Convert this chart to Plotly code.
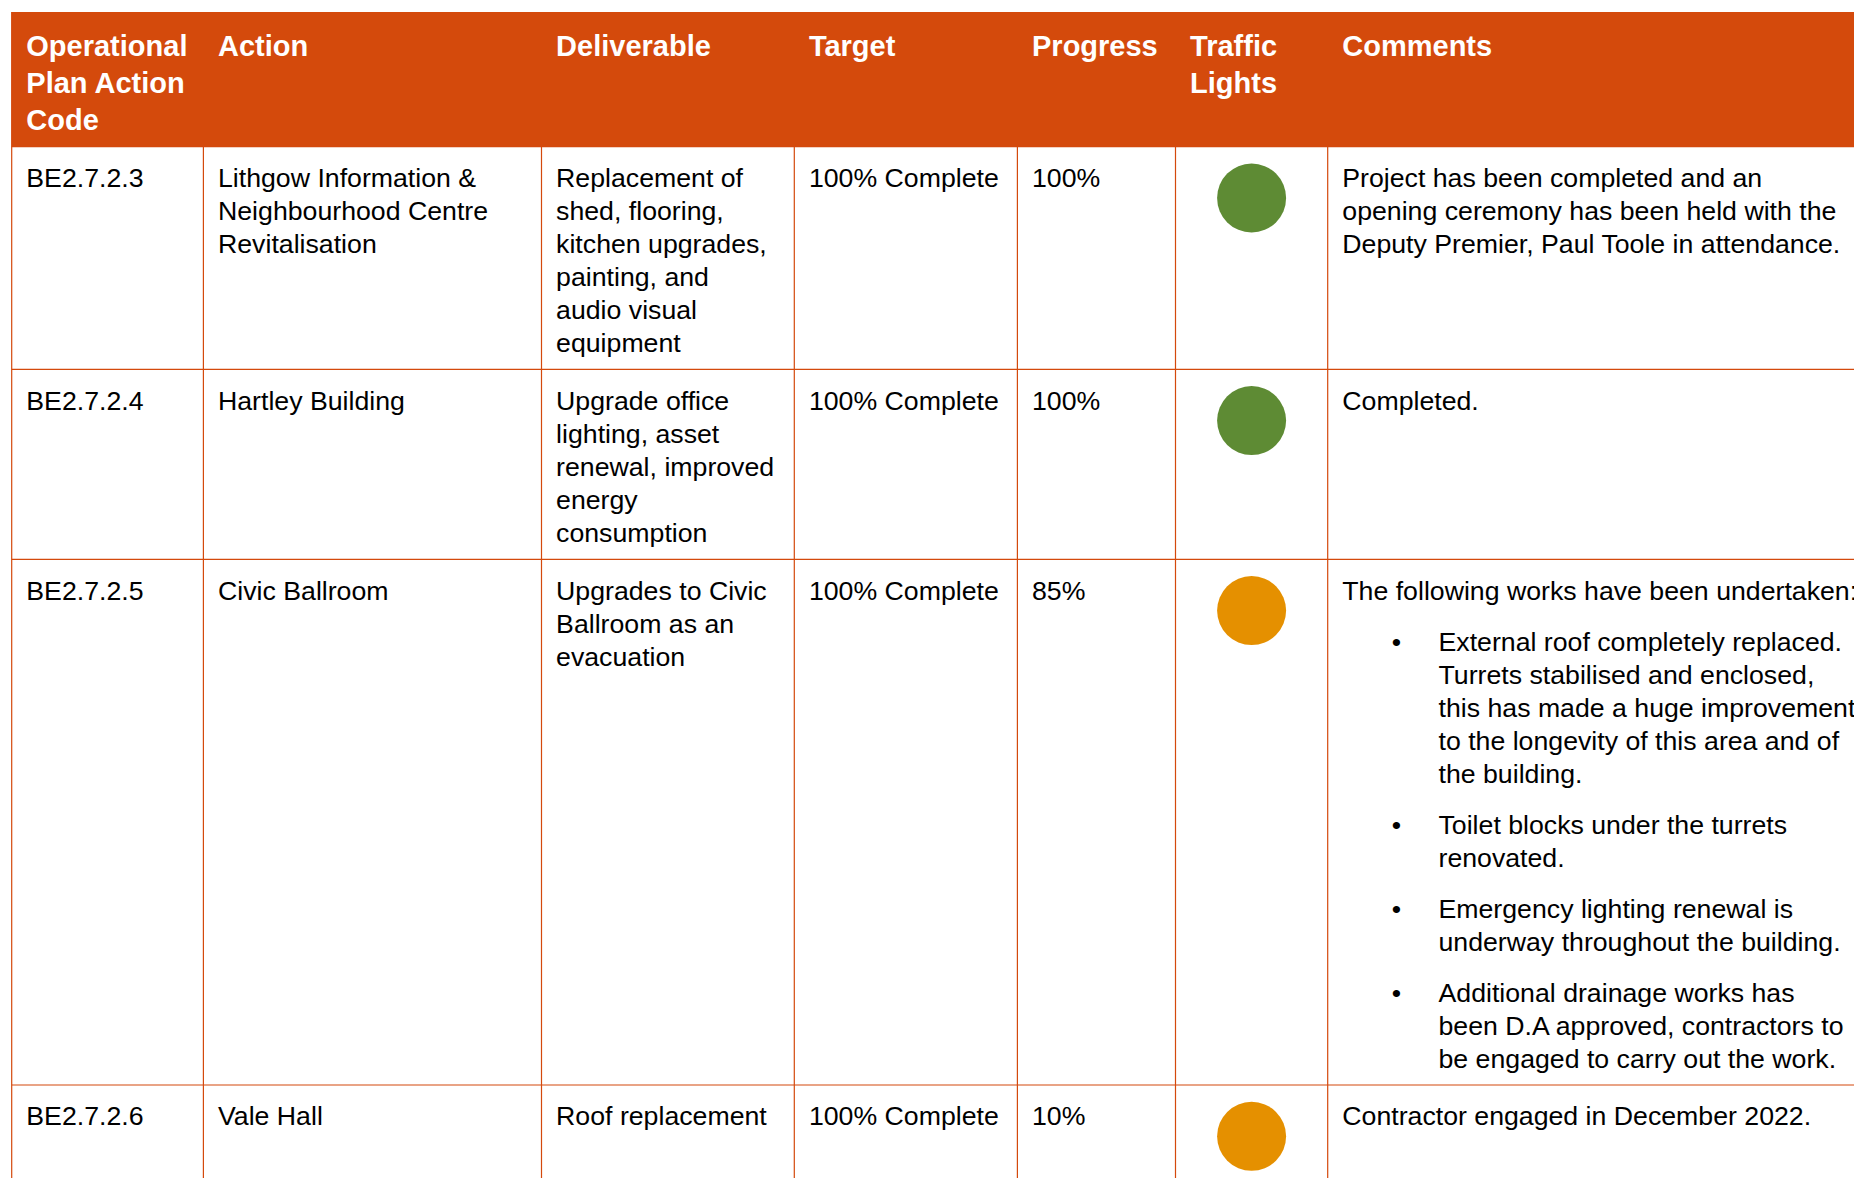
import plotly.graph_objects as go

# ---------------- data ----------------
headers = [
    ["Operational", "Plan Action", "Code"],
    ["Action"],
    ["Deliverable"],
    ["Target"],
    ["Progress"],
    ["Traffic", "Lights"],
    ["Comments"],
]
codes = ["BE2.7.2.3", "BE2.7.2.4", "BE2.7.2.5", "BE2.7.2.6"]
actions = [
    ["Lithgow Information &", "Neighbourhood Centre", "Revitalisation"],
    ["Hartley Building"],
    ["Civic Ballroom"],
    ["Vale Hall"],
]
deliverables = [
    ["Replacement of", "shed, flooring,", "kitchen upgrades,", "painting, and", "audio visual", "equipment"],
    ["Upgrade office", "lighting, asset", "renewal, improved", "energy", "consumption"],
    ["Upgrades to Civic", "Ballroom as an", "evacuation"],
    ["Roof replacement"],
]
targets = ["100% Complete", "100% Complete", "100% Complete", "100% Complete"]
progress = ["100%", "100%", "85%", "10%"]
traffic_lights = ["green", "green", "amber", "amber"]
comments_intro = [
    ["Project has been completed and an", "opening ceremony has been held with the",
     "Deputy Premier, Paul Toole in attendance."],
    ["Completed."],
    ["The following works have been undertaken:"],
    ["Contractor engaged in December 2022."],
]
comments_bullets = [
    [],
    [],
    [
        ["External roof completely replaced.", "Turrets stabilised and enclosed,",
         "this has made a huge improvement", "to the longevity of this area and of", "the building."],
        ["Toilet blocks under the turrets", "renovated."],
        ["Emergency lighting renewal is", "underway throughout the building."],
        ["Additional drainage works has", "been D.A approved, contractors to",
         "be engaged to carry out the work."],
    ],
    [],
]

# ---------------- layout / style constants ----------------
W, H = 1854, 1178
col_edges = [11.7, 203.4, 541.5, 794.3, 1017.4, 1175.5, 1327.7, 1950]
row_edges = [12.0, 146.7, 369.3, 559.3, 1085.0, 1300]
pad_x = 14.6
hdr_first = 37.0
hdr_lh = 36.7
body_first = 33.6
body_lh = 33.1
para_step = 51.0
bullet_x = 1396.5
bullet_text_x = 1438.5
light_dy = 51.3
light_size = 69

HEADER_BG = "#D44A0C"
LINE_COL = "#D4490C"
LIGHT_COLORS = {"green": "#5E8B34", "amber": "#E59000"}
FONT = "Liberation Sans, Arial, sans-serif"
BODY_SIZE = 26.7
HDR_SIZE = 29

# ---------------- build text positions ----------------
hx, hy, ht = [], [], []
for c, lines in enumerate(headers):
    for i, ln in enumerate(lines):
        hx.append(col_edges[c] + pad_x)
        hy.append(row_edges[0] + hdr_first + i * hdr_lh)
        ht.append(ln)

bx, by, bt = [], [], []
dots_x, dots_y = [], []
lx, ly, lc = [], [], []


def add_lines(x, y0, lines):
    for i, ln in enumerate(lines):
        bx.append(x)
        by.append(y0 + i * body_lh)
        bt.append(ln)
    return y0 + (len(lines) - 1) * body_lh


for r in range(len(codes)):
    top = row_edges[r + 1]
    y0 = top + body_first
    add_lines(col_edges[0] + pad_x, y0, [codes[r]])
    add_lines(col_edges[1] + pad_x, y0, actions[r])
    add_lines(col_edges[2] + pad_x, y0, deliverables[r])
    add_lines(col_edges[3] + pad_x, y0, [targets[r]])
    add_lines(col_edges[4] + pad_x, y0, [progress[r]])
    last = add_lines(col_edges[6] + pad_x, y0, comments_intro[r])
    for blines in comments_bullets[r]:
        start = last + para_step
        dots_x.append(bullet_x)
        dots_y.append(start)
        last = add_lines(bullet_text_x, start, blines)
    lx.append((col_edges[5] + col_edges[6]) / 2)
    ly.append(top + light_dy)
    lc.append(LIGHT_COLORS[traffic_lights[r]])

fig = go.Figure()

fig.add_trace(go.Scatter(
    x=hx, y=hy, text=ht, mode="text", textposition="middle right",
    textfont=dict(family=FONT, size=HDR_SIZE, color="white", weight="bold"),
    hoverinfo="skip", showlegend=False, cliponaxis=False,
))
fig.add_trace(go.Scatter(
    x=bx, y=by, text=bt, mode="text", textposition="middle right",
    textfont=dict(family=FONT, size=BODY_SIZE, color="black"),
    hoverinfo="skip", showlegend=False, cliponaxis=False,
))
fig.add_trace(go.Scatter(
    x=dots_x, y=dots_y, text=["•"] * len(dots_x), mode="text", textposition="middle center",
    textfont=dict(family=FONT, size=BODY_SIZE, color="black"),
    hoverinfo="skip", showlegend=False, cliponaxis=False,
))
fig.add_trace(go.Scatter(
    x=lx, y=ly, mode="markers",
    marker=dict(size=light_size, color=lc, line=dict(width=0)),
    hoverinfo="skip", showlegend=False,
))

shapes = [dict(type="rect", xref="x", yref="y", x0=col_edges[0], x1=col_edges[-1],
               y0=row_edges[0], y1=row_edges[1], fillcolor=HEADER_BG,
               line=dict(width=0), layer="below")]
for yv in row_edges[1:-1]:
    shapes.append(dict(type="line", xref="x", yref="y", x0=col_edges[0], x1=col_edges[-1],
                       y0=yv, y1=yv, line=dict(color=LINE_COL, width=1.2), layer="below"))
for xv in col_edges[:-1]:
    y_start = row_edges[0] if xv == col_edges[0] else row_edges[1]
    shapes.append(dict(type="line", xref="x", yref="y", x0=xv, x1=xv,
                       y0=y_start, y1=row_edges[-1], line=dict(color=LINE_COL, width=1.2),
                       layer="below"))

fig.update_layout(
    width=W, height=H,
    margin=dict(l=0, r=0, t=0, b=0),
    paper_bgcolor="white", plot_bgcolor="white",
    xaxis=dict(range=[0, W], visible=False, fixedrange=True),
    yaxis=dict(range=[H, 0], visible=False, fixedrange=True),
    shapes=shapes,
    showlegend=False,
)

fig.write_html("out.html", config={"displayModeBar": False},
               post_script="document.body.style.margin='0';document.body.style.overflow='hidden';")
